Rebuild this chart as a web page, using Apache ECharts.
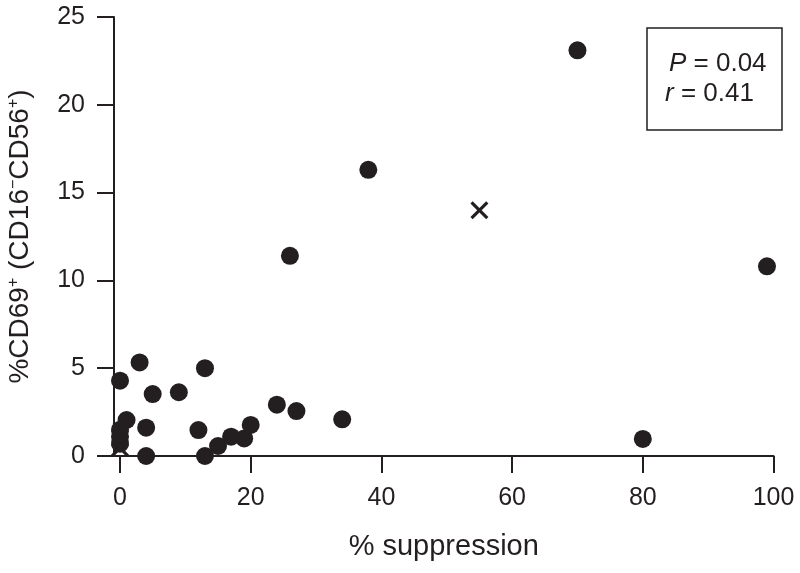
<!DOCTYPE html>
<html>
<head>
<meta charset="utf-8">
<script src="https://cdn.jsdelivr.net/npm/echarts@6/dist/echarts.min.js"></script>
<style>
html,body{margin:0;padding:0;background:#fff;}
#chart{width:800px;height:573px;}
</style>
</head>
<body>
<div id="chart"></div>
<script>
// Filled circles: % suppression (x) vs %CD69+ (y)
var circleX = [70, 38, 26, 99, 80, 3, 0, 13, 5, 9, 1, 4, 12, 4, 13, 15, 17, 19, 20, 24, 27, 34, 0, 0, 0];
var circleY = [23.1, 16.3, 11.4, 10.8, 0.97, 5.33, 4.29, 5.0, 3.53, 3.63, 2.05, 1.61, 1.48, 0, 0, 0.57, 1.1, 1.0, 1.77, 2.92, 2.56, 2.09, 1.5, 1.1, 0.7];
// Crosses
var crossX = [55, 0, 0];
var crossY = [14.0, 1.0, 0.45];
var xTicks = [0, 20, 40, 60, 80, 100];
var statP = '0.04';
var statR = '0.41';

var ink = '#231f20';
var font = 'Liberation Sans, Arial, Helvetica, sans-serif';

function pairs(xs, ys){ return xs.map(function(x,i){ return [x, ys[i]]; }); }

var crossPath = 'path://M2,0 L8,6 L14,0 L16,2 L10,8 L16,14 L14,16 L8,10 L2,16 L0,14 L6,8 L0,2 Z';

var chart = echarts.init(document.getElementById('chart'), null, {renderer:'canvas'});
chart.setOption({
  animation: false,
  backgroundColor: '#fff',
  grid: {left: 114, right: 26.5, top: 17, bottom: 117, outerBoundsMode: 'none', containLabel: false},
  xAxis: {
    type: 'value', min: -0.92, max: 100,
    name: '% suppression', nameLocation: 'middle', nameGap: 76,
    nameTextStyle: {fontFamily: font, fontSize: 29, color: ink},
    axisLine: {onZero: false, lineStyle: {color: ink, width: 2}},
    axisTick: {show: true, inside: false, length: 17, lineStyle: {color: ink, width: 2}, customValues: xTicks},
    axisLabel: {margin: 30, fontFamily: font, fontSize: 25, color: ink, customValues: xTicks, showMinLabel: true, showMaxLabel: true},
    splitLine: {show: false}
  },
  yAxis: {
    type: 'value', min: 0, max: 25, interval: 5,
    name: '%CD69{sup|+} (CD16{sup|\u2212}CD56{sup|+})', nameLocation: 'middle', nameGap: 80,
    nameRotate: 90,
    nameTextStyle: {fontFamily: font, fontSize: 28, color: ink,
      rich: {sup: {fontFamily: font, fontSize: 16, color: ink, verticalAlign: 'top', padding: [0,0,12,0]}}},
    axisLine: {show: true, onZero: false, lineStyle: {color: ink, width: 2}},
    axisTick: {show: true, inside: false, length: 17, lineStyle: {color: ink, width: 2}},
    axisLabel: {margin: 29, fontFamily: font, fontSize: 25, color: ink},
    splitLine: {show: false}
  },
  series: [
    {type: 'scatter', data: pairs(circleX, circleY), symbol: 'circle', symbolSize: 18,
     itemStyle: {color: ink, opacity: 1}, clip: false},
    {type: 'scatter', data: pairs(crossX, crossY), symbol: crossPath, symbolSize: 18,
     itemStyle: {color: ink, opacity: 1}, clip: false}
  ],
  graphic: [
    {type: 'rect', shape: {x: 647, y: 28, width: 135, height: 102},
     style: {fill: 'none', stroke: ink, lineWidth: 1.5}, z: 10},
    {type: 'text', x: 669, y: 64, z: 10,
     style: {text: '{i|P} = ' + statP, verticalAlign: 'middle', align: 'left', fontFamily: font, fontSize: 26, fill: ink,
       rich: {i: {fontStyle: 'italic', fontFamily: font, fontSize: 26, fill: ink}}}},
    {type: 'text', x: 665, y: 94, z: 10,
     style: {text: '{i|r} = ' + statR, verticalAlign: 'middle', align: 'left', fontFamily: font, fontSize: 26, fill: ink,
       rich: {i: {fontStyle: 'italic', fontFamily: font, fontSize: 26, fill: ink}}}}
  ]
});
</script>
</body>
</html>
